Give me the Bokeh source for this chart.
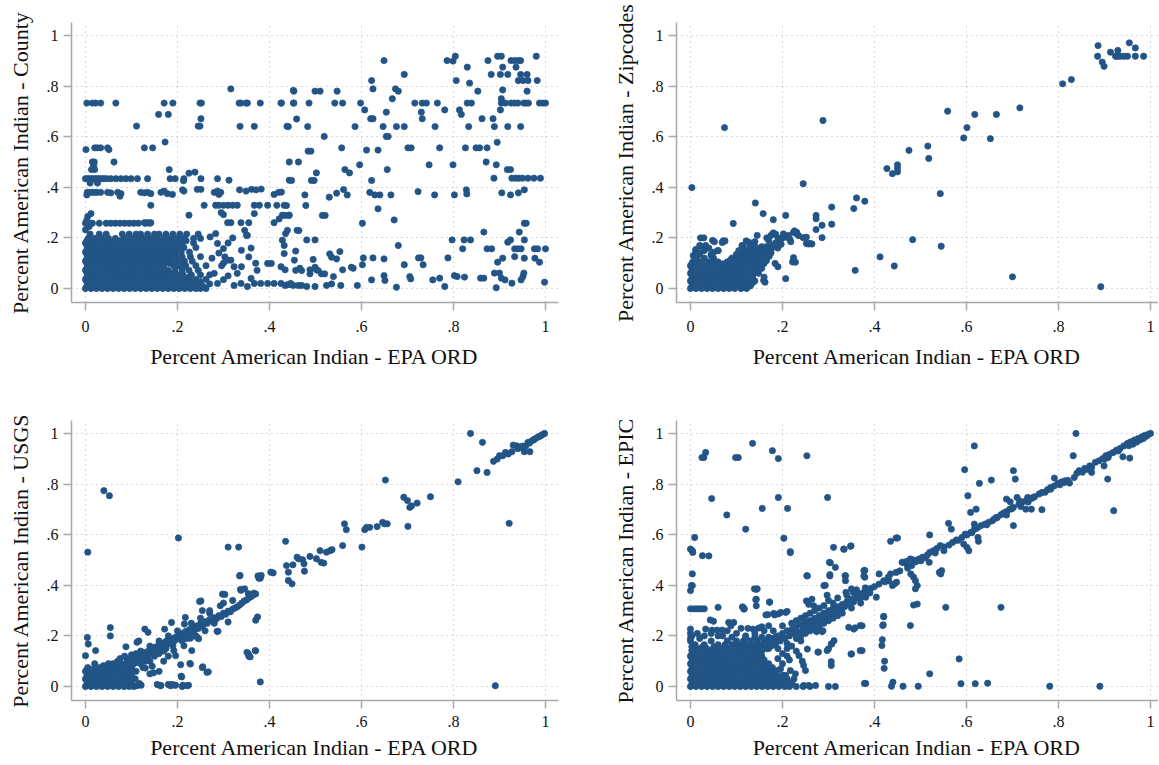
from bokeh.plotting import figure
from bokeh.models import Range1d, FixedTicker, ColumnDataSource
from bokeh.layouts import column, row
from bokeh.embed import file_html
from bokeh.resources import INLINE

# ---------------- data ----------------
tick_vals = [0, 0.2, 0.4, 0.6, 0.8, 1]
tick_labels = ["0", ".2", ".4", ".6", ".8", "1"]
x_title = "Percent American Indian - EPA ORD"
y_titles = ["Percent American Indian - County", "Percent American Indian - Zipcodes",
            "Percent American Indian - USGS", "Percent American Indian - EPIC"]

# dense clusters: (y, [x values]) rows
county_rows = [
    (0.000, [0, .012, .024, .036, .048, .06, .072, .084, .096, .108, .12, .132, .144, .156, .168, .18, .192, .204, .216, .228, .24, .25, .262]),
    (0.009, [.003, .015, .027, .039, .051, .063, .075, .087, .099, .111, .123, .135, .147, .159, .171, .183, .195, .207, .219, .231, .243, .255]),
    (0.018, [.006, .018, .03, .042, .054, .066, .078, .09, .102, .114, .126, .138, .15, .162, .174, .186, .198, .21, .222, .236, .248, .27]),
    (0.027, [.003, .015, .027, .039, .051, .063, .075, .087, .099, .111, .123, .135, .147, .159, .171, .183, .195, .207, .219, .231, .25]),
    (0.036, [0, .012, .024, .036, .048, .06, .072, .084, .096, .108, .12, .132, .144, .156, .168, .18, .192, .205, .22, .24, .262]),
    (0.045, [.003, .015, .027, .039, .051, .063, .075, .087, .099, .111, .123, .135, .147, .159, .171, .183, .195, .21, .225]),
    (0.054, [.006, .018, .03, .042, .054, .066, .078, .09, .102, .114, .126, .138, .15, .162, .174, .2, .212, .23, .25, .27]),
    (0.063, [.003, .015, .027, .039, .051, .063, .075, .087, .099, .111, .123, .135, .147, .159, .171, .183, .195]),
    (0.072, [0, .012, .024, .036, .048, .06, .072, .084, .096, .108, .12, .132, .144, .156, .168, .18, .21, .225, .245]),
    (0.081, [.003, .015, .027, .039, .051, .063, .075, .087, .099, .111, .123, .135, .147, .159, .171, .195]),
    (0.090, [.006, .018, .03, .042, .054, .066, .078, .09, .102, .114, .126, .138, .15, .162, .192, .204, .218, .24, .262]),
    (0.099, [.003, .015, .027, .039, .051, .063, .075, .087, .099, .111, .123, .135, .147, .159, .171, .183, .21]),
    (0.108, [0, .012, .024, .036, .048, .06, .072, .084, .096, .108, .12, .132, .144, .156, .168, .186, .2, .215, .232]),
    (0.117, [.003, .015, .027, .039, .051, .063, .075, .087, .099, .111, .123, .135, .147, .159, .171, .183]),
    (0.126, [.006, .018, .03, .042, .054, .066, .078, .09, .102, .114, .126, .138, .15, .162, .174, .196, .21, .228, .25]),
    (0.135, [.003, .015, .027, .039, .051, .063, .075, .087, .099, .111, .123, .135, .147, .159, .171, .183, .195]),
    (0.144, [0, .012, .024, .036, .048, .06, .072, .084, .096, .108, .12, .132, .144, .156, .168, .18, .192, .208, .226]),
    (0.153, [.003, .015, .027, .039, .051, .063, .075, .087, .099, .111, .123, .135, .147, .159, .171, .183, .195]),
    (0.162, [.006, .018, .03, .042, .054, .066, .078, .09, .102, .114, .126, .138, .15, .162, .174, .186, .2, .214, .24]),
    (0.171, [.003, .015, .027, .039, .051, .063, .075, .087, .099, .111, .123, .135, .147, .159, .171, .183, .195, .207]),
    (0.180, [0, .012, .024, .036, .048, .06, .072, .084, .096, .108, .12, .132, .144, .156, .168, .18, .195, .21, .235]),
    (0.189, [.003, .015, .027, .039, .051, .063, .075, .087, .099, .111, .123, .135, .147, .159, .171, .183, .195, .207, .219]),
    (0.198, [.006, .02, .035, .05, .065, .085, .1, .112, .125, .14, .155, .17, .185, .2, .215, .235, .25]),
    (0.215, [.01, .03, .045, .08, .095, .11, .12, .135, .15, .16, .175, .19, .205, .22, .245]),
    (0.258, [0, .015, .03, .045, .055, .065, .075, .085, .095, .105, .115, .13, .14]),
]
county_pts = [
    (0.003, .733), (0.015, .733), (0.022, .733), (0.033, .733), (0.066, .733), (0.171, .733), (0.19, .733),
    (0.249, .733), (0.252, .733), (0.334, .733), (0.338, .733), (0.349, .733), (0.352, .733), (0.38, .733),
    (0.425, .733), (0.452, .733), (0.316, .789), (0.452, .783), (0.459, .67), (0.159, .688), (0.18, .688),
    (0.111, .642), (0.245, .642), (0.249, .642), (0.251, .671), (0.336, .641), (0.367, .641), (0.438, .641),
    (0.173, .579), (0.443, .5), (0.001, .549), (0.02, .556), (0.026, .556), (0.033, .556), (0.048, .556),
    (0.051, .549), (0.128, .556), (0.146, .556), (0.015, .5), (0.019, .5), (0.062, .5), (0.013, .47),
    (0.02, .47), (0.018, .487), (0.0, .434), (0.005, .434), (0.01, .434), (0.015, .434), (0.02, .434),
    (0.025, .434), (0.03, .434), (0.035, .434), (0.04, .434), (0.046, .434), (0.055, .434), (0.066, .434),
    (0.077, .434), (0.088, .434), (0.099, .434), (0.113, .434), (0.135, .434), (0.184, .434), (0.195, .434),
    (0.214, .434), (0.251, .434), (0.287, .434), (0.213, .426), (0.238, .46), (0.312, .428), (0.443, .428),
    (0.182, .47), (0.225, .456), (0.01, .417), (0.026, .417), (0.004, .38), (0.009, .38), (0.015, .38),
    (0.02, .38), (0.025, .38), (0.033, .38), (0.048, .38), (0.055, .378), (0.07, .38), (0.077, .375),
    (0.12, .38), (0.128, .378), (0.135, .38), (0.142, .375), (0.164, .38), (0.171, .385), (0.178, .375),
    (0.189, .372), (0.211, .39), (0.214, .385), (0.243, .392), (0.251, .392), (0.28, .38), (0.287, .385),
    (0.29, .372), (0.294, .38), (0.335, .39), (0.349, .385), (0.361, .392), (0.371, .39), (0.382, .393),
    (0.41, .372), (0.42, .38), (0.075, .365), (0.003, .37), (0.142, .329), (0.258, .329), (0.283, .329),
    (0.29, .329), (0.3, .329), (0.31, .329), (0.32, .329), (0.33, .329), (0.367, .329), (0.378, .329),
    (0.396, .329), (0.416, .329), (0.432, .329), (0.295, .3), (0.3, .292), (0.225, .29), (0.003, .27),
    (0.005, .285), (0.012, .296), (0.008, .245), (0.0, .232), (0.128, .26), (0.135, .26), (0.142, .26),
    (0.309, .26), (0.316, .26), (0.338, .26), (0.355, .26), (0.367, .296), (0.41, .26), (0.421, .275),
    (0.428, .29), (0.443, .29), (0.439, .23), (0.46, .23), (0.346, .23), (0.35, .21), (0.352, .21),
    (0.271, .204), (0.283, .217), (0.287, .178), (0.3, .158), (0.303, .125), (0.309, .112), (0.316, .112),
    (0.323, .086), (0.339, .151), (0.355, .125), (0.339, .086), (0.373, .072), (0.396, .099), (0.404, .099),
    (0.367, .02), (0.381, .02), (0.396, .02), (0.41, .02), (0.425, .02), (0.439, .015), (0.446, .02),
    (0.425, .086), (0.432, .138), (0.428, .191), (0.435, .217), (0.454, .112), (0.457, .072), (0.287, .02),
    (0.323, .012), (0.338, .02), (0.352, .008), (0.3, .035), (0.31, .05), (0.33, .06), (0.36, .04),
    (0.296, .09), (0.3, .1), (0.28, .06), (0.29, .14), (0.275, .12), (0.31, .18), (0.32, .2), (0.36, .16),
    (0.37, .1),
    (0.649, .901), (0.786, .901), (0.799, .899), (0.804, .918), (0.83, .875), (0.875, .901), (0.896, .918),
    (0.904, .918), (0.925, .901), (0.933, .901), (0.941, .901), (0.946, .901), (0.907, .875), (0.936, .875),
    (0.882, .846), (0.902, .846), (0.918, .846), (0.946, .846), (0.96, .846), (0.98, .918), (0.941, .822),
    (0.951, .822), (0.962, .822), (0.982, .822), (0.622, .822), (0.693, .846), (0.806, .822), (0.835, .812),
    (0.625, .789), (0.674, .789), (0.68, .78), (0.853, .78), (0.907, .785), (0.96, .78), (0.453, .78),
    (0.499, .78), (0.51, .78), (0.547, .78),
    (0.426, .733), (0.453, .733), (0.486, .733), (0.542, .733), (0.559, .733), (0.598, .733), (0.716, .733),
    (0.732, .733), (0.741, .733), (0.765, .733), (0.83, .733), (0.839, .733), (0.904, .733), (0.913, .733),
    (0.925, .733), (0.933, .733), (0.94, .733), (0.953, .733), (0.958, .733), (0.963, .733), (0.987, .733),
    (0.994, .733), (1.0, .733), (0.904, .75), (0.902, .706),
    (0.607, .706), (0.667, .75), (0.654, .697), (0.73, .697), (0.781, .706), (0.813, .706), (0.817, .688),
    (0.862, .671), (0.886, .671), (0.732, .671), (0.62, .671), (0.625, .671),
    (0.441, .64), (0.483, .64), (0.586, .64), (0.647, .64), (0.676, .64), (0.693, .64), (0.76, .64),
    (0.833, .64), (0.889, .64), (0.918, .64), (0.946, .64), (0.519, .601), (0.654, .601), (0.658, .601),
    (0.557, .556), (0.611, .547), (0.636, .547), (0.701, .556), (0.708, .556), (0.77, .556), (0.826, .556),
    (0.849, .556), (0.857, .556), (0.873, .556), (0.895, .578), (0.484, .543), (0.49, .543),
    (0.463, .5), (0.596, .489), (0.747, .489), (0.799, .489), (0.871, .5), (0.893, .489), (0.564, .47),
    (0.574, .457), (0.656, .47), (0.502, .457),
    (0.448, .427), (0.491, .427), (0.497, .427), (0.622, .427), (0.888, .436), (0.917, .47), (0.924, .47),
    (0.927, .436), (0.935, .436), (0.942, .436), (0.95, .436), (0.962, .436), (0.975, .436), (0.989, .436),
    (0.426, .381), (0.477, .37), (0.53, .361), (0.546, .377), (0.561, .391), (0.569, .37), (0.618, .38),
    (0.629, .37), (0.64, .37), (0.664, .37), (0.723, .383), (0.759, .37), (0.802, .37), (0.828, .39),
    (0.829, .374), (0.905, .378), (0.924, .37), (0.941, .378), (0.954, .39),
    (0.437, .328), (0.479, .328), (0.434, .289), (0.442, .289), (0.515, .289), (0.521, .289), (0.636, .315),
    (0.671, .271), (0.602, .258),
    (0.464, .229), (0.481, .192), (0.499, .192), (0.432, .17), (0.457, .148), (0.68, .17), (0.797, .192),
    (0.823, .192), (0.837, .192), (0.866, .223), (0.873, .157), (0.883, .157), (0.924, .192), (0.918, .183),
    (0.943, .223), (0.954, .258), (0.958, .258), (0.954, .192), (0.976, .157), (0.983, .157), (1.0, .157),
    (0.82, .157), (0.933, .157), (0.94, .157), (0.947, .157),
    (0.495, .115), (0.531, .137), (0.535, .124), (0.546, .117), (0.553, .146), (0.604, .121), (0.625, .121),
    (0.649, .117), (0.724, .121), (0.729, .121), (0.788, .121), (0.907, .12), (0.933, .126), (0.954, .12),
    (0.977, .12), (0.896, .104), (0.987, .104),
    (0.434, .074), (0.466, .08), (0.47, .071), (0.488, .074), (0.488, .058), (0.499, .084), (0.502, .074),
    (0.506, .071), (0.513, .058), (0.52, .058), (0.539, .047), (0.559, .074), (0.578, .084), (0.582, .08),
    (0.602, .094), (0.693, .094), (0.734, .094), (0.705, .047), (0.707, .038), (0.622, .034), (0.649, .051),
    (0.651, .032), (0.755, .034), (0.77, .041), (0.802, .051), (0.808, .047), (0.824, .045), (0.859, .041),
    (0.866, .041), (0.889, .061), (0.9, .061), (0.904, .041), (0.912, .034), (0.927, .021), (0.947, .034),
    (0.951, .047), (0.953, .061), (0.998, .025),
    (0.434, .012), (0.445, .016), (0.452, .012), (0.463, .012), (0.47, .012), (0.481, .008), (0.499, .008),
    (0.524, .012), (0.535, .018), (0.555, .012), (0.591, .012), (0.676, .005), (0.781, .008), (0.893, .003),
]

zip_rows = [
    (0.000, [0, .012, .024, .036, .048, .06, .072, .084, .096, .11, .122]),
    (0.0075, [.003, .015, .027, .039, .051, .063, .075, .087, .099, .111, .123]),
    (0.015, [.006, .018, .03, .042, .054, .066, .078, .09, .105, .118, .13]),
    (0.0225, [.003, .015, .027, .039, .051, .063, .075, .087, .099, .111, .123, .135]),
    (0.030, [0, .012, .024, .036, .048, .06, .072, .084, .096, .11, .125, .14]),
    (0.0375, [.003, .015, .027, .039, .051, .063, .075, .087, .099, .111, .123, .135]),
    (0.045, [.006, .018, .03, .042, .054, .066, .078, .09, .1, .115, .13]),
    (0.0525, [.003, .015, .027, .039, .051, .063, .075, .087, .099, .111, .123, .135]),
    (0.060, [0, .012, .024, .036, .048, .06, .072, .084, .096, .11, .12, .135]),
    (0.0675, [.003, .015, .027, .039, .051, .063, .075, .087, .099, .111, .123, .135]),
    (0.075, [.006, .018, .03, .042, .054, .066, .078, .09, .1, .112, .124, .14]),
    (0.0825, [.003, .015, .027, .039, .063, .075, .087, .099, .111, .123, .135, .147]),
    (0.090, [0, .015, .03, .045, .06, .075, .09, .1, .11, .12, .13, .145]),
    (0.0975, [.003, .02, .05, .07, .087, .099, .111, .123, .135, .147]),
    (0.105, [.005, .025, .04, .06, .08, .095, .105, .115, .125, .135, .15]),
    (0.1125, [.015, .087, .099, .111, .123, .135, .147, .159]),
    (0.120, [.01, .03, .05, .09, .1, .11, .12, .13, .14, .155, .165]),
    (0.1275, [.099, .111, .123, .135, .147, .159, .171]),
    (0.135, [.02, .045, .1, .112, .125, .135, .145, .16, .17]),
    (0.1425, [.111, .123, .135, .147, .159, .171]),
    (0.150, [.03, .06, .11, .12, .13, .14, .15, .16, .175]),
    (0.165, [.025, .115, .13, .14, .155, .17, .18]),
]
zip_pts = [
    (0.886, .96), (0.885, .918), (0.895, .895), (0.899, .878), (0.913, .934), (0.924, .918), (0.929, .941),
    (0.929, .918), (0.934, .918), (0.942, .918), (0.95, .918), (0.954, .971), (0.967, .951), (0.967, .918),
    (0.985, .918), (0.809, .809), (0.828, .826), (0.716, .714), (0.559, .701), (0.618, .688), (0.665, .688),
    (0.601, .636), (0.594, .595), (0.652, .592), (0.516, .563), (0.518, .514), (0.475, .546), (0.427, .474),
    (0.439, .454), (0.45, .489), (0.45, .476), (0.45, .461), (0.543, .375), (0.483, .193), (0.545, .167),
    (0.412, .125), (0.443, .089), (0.358, .072), (0.7, .046), (0.892, .007), (0.074, .636), (0.288, .664),
    (0.003, .399), (0.245, .414), (0.361, .358), (0.379, .345), (0.355, .316), (0.307, .322), (0.307, .254),
    (0.273, .289), (0.273, .276), (0.286, .25), (0.273, .233), (0.286, .201), (0.207, .289), (0.18, .272),
    (0.158, .296), (0.141, .338), (0.093, .257), (0.245, .201), (0.252, .178), (0.26, .178), (0.226, .228),
    (0.23, .217), (0.224, .122), (0.222, .105), (0.207, .039),
    (0.022, .2), (0.029, .2), (0.02, .17), (0.033, .17), (0.051, .144), (0.011, .15), (0.073, .187),
    (0.069, .182), (0.145, .21), (0.127, .183), (0.13, .17), (0.112, .17), (0.105, .15), (0.202, .216),
    (0.209, .203), (0.224, .222), (0.231, .222), (0.235, .209), (0.252, .203), (0.257, .176), (0.264, .176),
    (0.228, .104), (0.159, .032), (0.162, .025), (0.16, .045), (0.137, .072), (0.184, .099), (0.19, .086),
    (0.16, .099), (0.123, .104), (0.13, .098),
    (0.048, .19), (0.052, .185), (0.071, .188), (0.075, .188), (0.121, .188), (0.166, .2), (0.175, .21),
    (0.18, .22), (0.185, .215), (0.19, .2), (0.17, .19), (0.195, .19), (0.2, .2), (0.213, .21), (0.216, .195),
    (0.218, .185), (0.14, .185), (0.012, .155), (0.006, .13), (0.01, .12), (0.02, .14), (0.04, .16),
    (0.06, .15), (0.045, .13), (0.12, .04), (0.125, .02), (0.13, .01), (0.148, .06), (0.155, .08),
    (0.135, .05), (0.16, .13), (0.17, .15), (0.178, .17), (0.175, .14), (0.19, .16), (0.197, .175),
    (0.185, .18), (0.165, .165), (0.15, .16), (0.155, .145), (0.143, .15), (0.158, .12), (0.17, .13),
    (0.165, .11), (0.145, .13), (0.115, .08), (0.12, .06), (0.13, .085), (0.14, .095), (0.15, .11),
]

usgs_rows = [
    (0.000, [0, .012, .024, .036, .048, .06, .072, .084, .095, .105]),
    (0.0075, [.003, .015, .027, .039, .051, .063, .075, .087, .099]),
    (0.015, [.006, .018, .03, .042, .054, .066, .078, .09, .1]),
    (0.0225, [.003, .015, .027, .039, .051, .063, .075, .087, .099]),
    (0.030, [0, .012, .024, .036, .048, .06, .072, .084, .096, .108]),
    (0.0375, [.003, .015, .027, .039, .051, .063, .075, .087, .099]),
    (0.045, [.006, .018, .03, .042, .054, .066, .078, .09, .1]),
    (0.0525, [.003, .015, .027, .039, .051, .063, .075, .087, .099]),
    (0.060, [0, .012, .024, .036, .048, .06, .072, .084, .096, .11]),
    (0.0675, [.003, .015, .027, .039, .051, .063, .075, .087, .099]),
    (0.075, [.005, .03, .042, .054, .066, .078, .09, .1]),
    (0.0825, [.039, .051, .063, .075, .087, .099]),
    (0.090, [.02, .05, .066, .078, .09, .105]),
]
usgs_pts = [
    (0.837, 1.0), (0.863, .965), (0.851, .853), (0.873, .846), (0.887, .89), (0.81, .809), (0.921, .645),
    (0.891, .003), (0.895, .899), (0.9, .912), (0.907, .912), (0.913, .925), (0.919, .919), (0.927, .928),
    (0.93, .954), (0.938, .951), (0.945, .945), (0.954, .928), (0.957, .951), (0.962, .965), (0.966, .928),
    (0.97, .971), (0.976, .978), (0.982, .984), (0.99, .991), (0.998, 1.0), (0.993, .995), (0.986, .988),
    (0.95, .95), (0.94, .94), (0.975, .975), (0.965, .962),
    (0.652, .816), (0.75, .75), (0.692, .748), (0.7, .735), (0.705, .708), (0.709, .714), (0.721, .725),
    (0.701, .633), (0.563, .643), (0.567, .62), (0.601, .551), (0.607, .62), (0.611, .629), (0.618, .629),
    (0.634, .632), (0.646, .649), (0.65, .643), (0.656, .643),
    (0.559, .557), (0.524, .531), (0.532, .537), (0.536, .541), (0.51, .537), (0.502, .505), (0.512, .491),
    (0.518, .488), (0.488, .514), (0.472, .501), (0.463, .505), (0.46, .511), (0.475, .485), (0.476, .456),
    (0.451, .481), (0.449, .406), (0.441, .419), (0.437, .478), (0.441, .452), (0.435, .574), (0.408, .449),
    (0.403, .452), (0.382, .439), (0.377, .428), (0.336, .439), (0.374, .275), (0.37, .141), (0.354, .13),
    (0.358, .117), (0.38, .018), (0.04, .774), (0.052, .754), (0.005, .531), (0.202, .587), (0.31, .551),
    (0.333, .551),
    (0.338, .38), (0.346, .386), (0.354, .367), (0.362, .36), (0.366, .369), (0.303, .364), (0.251, .338),
    (0.31, .255), (0.288, .218), (0.246, .189), (0.227, .091), (0.255, .078), (0.267, .058), (0.208, .041),
    (0.196, .005), (0.212, .005), (0.224, .005), (0.156, .008), (0.164, .004), (0.18, .008), (0.188, .008),
    (0.117, .012), (0.121, .005),
    (0.004, .194), (0.006, .168), (0.0, .122), (0.022, .142), (0.054, .2), (0.054, .233), (0.088, .157),
    (0.112, .175), (0.116, .18), (0.129, .227), (0.136, .214), (0.172, .227), (0.187, .253), (0.217, .273),
    (0.215, .247), (0.248, .336), (0.254, .3), (0.298, .365), (0.293, .319), (0.335, .437), (0.337, .384),
    (0.375, .437), (0.38, .428), (0.37, .262), (0.286, .218), (0.228, .191), (0.243, .194), (0.214, .161),
    (0.196, .122), (0.192, .142), (0.231, .142), (0.207, .086), (0.228, .089), (0.254, .075), (0.264, .056),
    (0.209, .038), (0.13, .073), (0.148, .054), (0.163, .003), (0.185, .003), (0.192, .006), (0.21, .0),
    (0.221, .003), (0.112, .003), (0.351, .135), (0.355, .12), (0.369, .142),
    (0.08, .085), (0.085, .07), (0.09, .095), (0.095, .08), (0.1, .1), (0.102, .088), (0.108, .11),
    (0.11, .095), (0.115, .12), (0.118, .105), (0.122, .125), (0.126, .112), (0.13, .135), (0.133, .12),
    (0.137, .14), (0.14, .128), (0.144, .15), (0.147, .135), (0.15, .155), (0.153, .142), (0.157, .16),
    (0.16, .15), (0.163, .168), (0.166, .155), (0.17, .172), (0.173, .16), (0.176, .18), (0.18, .17),
    (0.183, .185), (0.186, .175), (0.19, .19), (0.193, .18), (0.197, .196), (0.2, .188), (0.204, .205),
    (0.207, .195), (0.21, .21), (0.214, .2), (0.218, .218), (0.222, .208), (0.226, .225), (0.23, .215),
    (0.234, .232), (0.238, .224), (0.242, .24), (0.246, .23), (0.25, .248), (0.255, .24), (0.26, .256),
    (0.265, .25), (0.27, .265), (0.275, .26), (0.28, .272), (0.285, .268), (0.29, .28), (0.295, .276),
    (0.3, .29), (0.305, .286), (0.31, .298), (0.315, .295), (0.32, .306), (0.325, .31), (0.33, .315),
    (0.335, .322), (0.34, .33), (0.345, .338), (0.35, .342), (0.355, .35), (0.36, .355), (0.365, .362),
    (0.37, .366),
    (0.12, .14), (0.14, .16), (0.16, .18), (0.18, .2), (0.2, .22), (0.13, .1), (0.15, .12), (0.17, .14),
    (0.19, .16), (0.21, .18), (0.11, .13), (0.135, .11), (0.155, .13), (0.175, .15), (0.1, .07), (0.12, .09),
    (0.14, .1), (0.16, .13), (0.09, .11), (0.1, .125), (0.07, .1), (0.075, .11), (0.085, .12), (0.06, .09),
    (0.145, .08), (0.16, .06), (0.125, .075), (0.14, .05), (0.17, .1), (0.18, .12), (0.22, .19), (0.24, .2),
    (0.26, .22), (0.28, .25), (0.23, .25), (0.25, .27), (0.27, .29), (0.3, .33), (0.32, .34), (0.27, .3),
]

epic_rows = [
    (0.000, [0, .012, .024, .036, .048, .06, .072, .084, .096, .108, .12, .132, .144, .156, .168, .18, .192, .205, .215, .23, .245, .26]),
    (0.0075, [.003, .015, .027, .039, .051, .063, .075, .087, .099, .111, .123, .135, .147, .159, .171, .183, .195, .207, .219]),
    (0.015, [.006, .018, .03, .042, .054, .066, .078, .09, .102, .114, .126, .138, .15, .162, .175, .19, .205, .22]),
    (0.0225, [.003, .015, .027, .039, .051, .063, .075, .087, .099, .111, .123, .135, .147, .159, .171, .183, .195, .207]),
    (0.030, [0, .012, .024, .036, .048, .06, .072, .084, .096, .108, .12, .132, .144, .156, .168, .18, .195, .21]),
    (0.0375, [.003, .015, .027, .039, .051, .063, .075, .087, .099, .111, .123, .135, .147, .159, .171, .183, .195]),
    (0.045, [.006, .018, .03, .042, .054, .066, .078, .09, .102, .114, .126, .138, .15, .162, .175, .185, .2]),
    (0.0525, [.003, .015, .027, .039, .051, .063, .075, .087, .099, .111, .123, .135, .147, .159, .171, .183]),
    (0.060, [0, .012, .024, .036, .048, .06, .072, .084, .096, .108, .12, .132, .144, .156, .17, .18]),
    (0.0675, [.003, .015, .027, .039, .051, .063, .075, .087, .099, .111, .123, .135, .147, .159, .171]),
    (0.075, [.006, .018, .03, .042, .054, .066, .078, .09, .102, .114, .126, .138, .15, .165, .178]),
    (0.0825, [.003, .015, .027, .039, .051, .063, .075, .087, .099, .111, .123, .135, .147, .159, .171]),
    (0.090, [0, .012, .024, .036, .048, .06, .072, .084, .096, .108, .12, .135, .15, .17]),
    (0.0975, [.003, .015, .027, .039, .051, .063, .075, .087, .099, .111, .123, .135, .147, .159]),
    (0.105, [.006, .018, .03, .042, .054, .066, .078, .09, .102, .114, .13, .145, .16]),
    (0.1125, [.003, .015, .027, .039, .051, .063, .075, .087, .099, .111, .123, .135, .147]),
    (0.120, [0, .012, .024, .036, .05, .065, .08, .095, .11, .125, .14, .155]),
    (0.1275, [.003, .015, .027, .039, .051, .063, .075, .087, .099, .111, .123, .135, .147]),
    (0.135, [.005, .02, .035, .05, .065, .08, .095, .11, .125, .14, .15]),
    (0.1425, [.003, .015, .027, .039, .051, .063, .075, .087, .099, .111, .123, .135, .147]),
    (0.150, [.006, .02, .035, .05, .065, .08, .095, .11, .125, .14, .155, .17]),
    (0.1575, [.003, .027, .051, .075, .099, .111, .123, .135, .147, .159]),
    (0.165, [.01, .03, .06, .075, .09, .105, .12, .135, .15, .165, .18]),
    (0.180, [.045, .08, .1, .115, .13, .145, .16, .175, .19]),
    (0.195, [.09, .12, .14, .155, .17, .185, .2]),
]
epic_pts = [
    (0.029, .905), (0.033, .925), (0.025, .905), (0.098, .905), (0.104, .905), (0.135, .961), (0.178, .932),
    (0.191, .901), (0.253, .912), (0.046, .743), (0.191, .747), (0.298, .747), (0.156, .704), (0.211, .704),
    (0.079, .678), (0.12, .622), (0.009, .589), (0.203, .586), (0.217, .533), (0.0, .543), (0.004, .537),
    (0.005, .53), (0.026, .517), (0.004, .445), (0.002, .399), (0.004, .399), (0.0, .379), (0.617, .951),
    (0.0, .307), (0.006, .307), (0.012, .307), (0.018, .307), (0.024, .307), (0.03, .307), (0.06, .313),
    (0.139, .386), (0.145, .386), (0.142, .343), (0.114, .313), (0.117, .307), (0.172, .333), (0.164, .283),
    (0.183, .283), (0.191, .287), (0.207, .293),
    (0.311, .55), (0.334, .543), (0.348, .554), (0.302, .491), (0.315, .471), (0.253, .438), (0.29, .399),
    (0.303, .442), (0.337, .438), (0.337, .418), (0.377, .458), (0.379, .432), (0.392, .388), (0.338, .372),
    (0.35, .386), (0.354, .372), (0.361, .382), (0.368, .366), (0.377, .372), (0.381, .353), (0.404, .353),
    (0.41, .445), (0.423, .414), (0.431, .418), (0.435, .445), (0.439, .399), (0.443, .405), (0.448, .412),
    (0.435, .574), (0.447, .587), (0.45, .587), (0.46, .491), (0.47, .484), (0.479, .445), (0.485, .432),
    (0.489, .418), (0.493, .399), (0.489, .386), (0.485, .322), (0.493, .326), (0.478, .241), (0.52, .599),
    (0.555, .313), (0.675, .313), (0.584, .109), (0.52, .05),
    (0.42, .276), (0.418, .241), (0.416, .162), (0.421, .072), (0.378, .012), (0.44, .017), (0.437, .001),
    (0.462, .001), (0.495, .001), (0.588, .011), (0.619, .011), (0.646, .013), (0.781, .001), (0.89, .001),
    (0.344, .234), (0.358, .232), (0.369, .241), (0.373, .142), (0.35, .129), (0.306, .083), (0.3, .149),
    (0.307, .168), (0.278, .136), (0.274, .217), (0.286, .217),
    (0.462, .491), (0.47, .495), (0.478, .504), (0.485, .5), (0.497, .504), (0.505, .511), (0.515, .52),
    (0.52, .53), (0.528, .537), (0.536, .546), (0.543, .557), (0.57, .57), (0.578, .579), (0.59, .589),
    (0.601, .599), (0.609, .609), (0.617, .622), (0.625, .629), (0.632, .636), (0.64, .642), (0.648, .649),
    (0.656, .655), (0.665, .668), (0.675, .679), (0.687, .691), (0.694, .701), (0.702, .708), (0.714, .721),
    (0.721, .728), (0.729, .734), (0.741, .743), (0.748, .75), (0.764, .767), (0.776, .778), (0.783, .787),
    (0.791, .793), (0.799, .803), (0.807, .809), (0.814, .813), (0.824, .804), (0.834, .826), (0.845, .853),
    (0.857, .862), (0.868, .872), (0.88, .886), (0.888, .892), (0.896, .901), (0.903, .912), (0.911, .918),
    (0.919, .925), (0.926, .934), (0.934, .941), (0.942, .951), (0.95, .961), (0.957, .967), (0.965, .974),
    (0.973, .98), (0.981, .987), (0.988, .993), (0.996, .997), (1.0, 1.0),
    (0.803, .797), (0.812, .806), (0.82, .815), (0.953, .952), (0.962, .958), (0.978, .975), (0.992, .99),
    (0.985, .981), (0.97, .966), (0.93, .931), (0.908, .905), (0.9, .898), (0.862, .858), (0.872, .866),
    (0.852, .847), (0.84, .843), (0.758, .761), (0.771, .768), (0.734, .729), (0.717, .72), (0.698, .702),
    (0.681, .686), (0.66, .662), (0.644, .639), (0.621, .625), (0.612, .608), (0.597, .602), (0.582, .578),
    (0.562, .559), (0.551, .552), (0.532, .528), (0.511, .509), (0.501, .497), (0.49, .493), (0.481, .478),
    (0.472, .468), (0.455, .457), (0.447, .451), (0.43, .432), (0.42, .418),
    (0.838, 1.0), (0.832, .912), (0.899, .872), (0.907, .82), (0.92, .695), (0.94, .908), (0.955, .903),
    (0.872, .846), (0.791, .824), (0.783, .78), (0.702, .853), (0.706, .82), (0.628, .803), (0.654, .816),
    (0.596, .857), (0.603, .754), (0.621, .701), (0.609, .688), (0.561, .645), (0.567, .622), (0.617, .642),
    (0.594, .563), (0.601, .55), (0.605, .537), (0.625, .589), (0.626, .574), (0.551, .537), (0.546, .458),
    (0.544, .445), (0.541, .451), (0.519, .491), (0.687, .741), (0.695, .73), (0.71, .747), (0.733, .747),
    (0.745, .747), (0.741, .701), (0.764, .699), (0.702, .636), (0.718, .711), (0.729, .701), (0.667, .668),
    (0.687, .678), (0.716, .733),
    (0.0, .227), (0.0, .21), (0.0, .19), (0.0, .18), (0.003, .2), (0.04, .516),
    (0.217, .529), (0.143, .384), (0.143, .345), (0.143, .319), (0.172, .334), (0.113, .315), (0.116, .306),
    (0.043, .263), (0.05, .258), (0.033, .227), (0.047, .223), (0.058, .223), (0.069, .223), (0.083, .253),
    (0.094, .253), (0.088, .24), (0.136, .227), (0.148, .231), (0.155, .236), (0.168, .284), (0.181, .289),
    (0.196, .293), (0.21, .297), (0.254, .437), (0.252, .338), (0.257, .325), (0.264, .345), (0.268, .319),
    (0.293, .4), (0.297, .361), (0.304, .489), (0.333, .543), (0.349, .556), (0.303, .437), (0.336, .437),
    (0.377, .437), (0.379, .459), (0.274, .22), (0.288, .22), (0.355, .227), (0.373, .24), (0.312, .181),
    (0.306, .168), (0.297, .142), (0.277, .136), (0.254, .148), (0.236, .122), (0.349, .128), (0.369, .142),
    (0.306, .098), (0.243, .1), (0.246, .083), (0.25, .063), (0.217, .063), (0.228, .05), (0.225, .03),
    (0.188, .063), (0.196, .07), (0.207, .044), (0.246, .004), (0.257, .004), (0.272, .004), (0.3, .0),
    (0.315, .0), (0.381, .012), (0.417, .185), (0.422, .1), (0.419, .244), (0.42, .277),
    (0.15, .16), (0.155, .14), (0.16, .17), (0.165, .15), (0.17, .18), (0.175, .16), (0.18, .19),
    (0.185, .17), (0.19, .2), (0.195, .18), (0.2, .21), (0.205, .19), (0.21, .22), (0.215, .2), (0.22, .225),
    (0.225, .21), (0.23, .235), (0.235, .215), (0.24, .245), (0.245, .225), (0.25, .255), (0.255, .235),
    (0.26, .26), (0.265, .245), (0.27, .27), (0.275, .255), (0.28, .28), (0.285, .265), (0.29, .29),
    (0.295, .275), (0.3, .3), (0.305, .285), (0.31, .31), (0.315, .295), (0.32, .315), (0.325, .305),
    (0.33, .325), (0.335, .315), (0.34, .335), (0.345, .325), (0.35, .345), (0.355, .335), (0.36, .355),
    (0.365, .35), (0.37, .365), (0.375, .36), (0.38, .375), (0.39, .385), (0.4, .395), (0.41, .405),
    (0.23, .26), (0.25, .28), (0.27, .3), (0.29, .32), (0.31, .33), (0.26, .22), (0.28, .24), (0.3, .26),
    (0.32, .28), (0.2, .24), (0.22, .25), (0.24, .27), (0.18, .22), (0.21, .17), (0.19, .15), (0.24, .2),
    (0.26, .29), (0.28, .31), (0.3, .34), (0.32, .35), (0.34, .36), (0.36, .38), (0.38, .39), (0.35, .31),
    (0.37, .33), (0.33, .29), (0.31, .27), (0.29, .25), (0.27, .23), (0.25, .21), (0.23, .19), (0.21, .15),
    (0.2, .13), (0.22, .16), (0.23, .14), (0.21, .12), (0.2, .09), (0.215, .105), (0.19, .11), (0.24, .18),
    (0.25, .23), (0.26, .24), (0.28, .26), (0.3, .28), (0.33, .31), (0.35, .33), (0.37, .35), (0.39, .37),
    (0.06, .2), (0.07, .2), (0.08, .22), (0.1, .21), (0.12, .2), (0.11, .23), (0.045, .21), (0.03, .2),
    (0.02, .19), (0.015, .21), (0.125, .23), (0.14, .21), (0.16, .22), (0.17, .24),
]

# ---------------- styling ----------------
DOT = "#225586"
AXIS = "#a8a8a8"
GRID = "#b4b4b4"
FONT = "Liberation Serif"
X_RANGE_L = (-0.0304, 1.0283)
X_RANGE_R = (-0.0304, 1.0174)
Y_RANGE = (-0.0553, 1.0514)


def expand(rows, pts):
    xs = [x for yv, xr in rows for x in xr] + [p[0] for p in pts]
    ys = [yv for yv, xr in rows for _ in xr] + [p[1] for p in pts]
    return xs, ys


def make_panel(rows, pts, ytitle, width, height, mt, mb, mr, xr, lab_off, title_off):
    p = figure(width=width, height=height, output_backend="svg", toolbar_location=None,
               x_range=Range1d(*xr), y_range=Range1d(*Y_RANGE),
               min_border_left=71, min_border_right=mr, min_border_top=mt, min_border_bottom=mb)
    p.outline_line_color = None
    p.background_fill_color = "white"
    p.border_fill_color = "white"
    for ax in (p.xaxis, p.yaxis):
        ax.ticker = FixedTicker(ticks=tick_vals)
        ax.major_label_overrides = dict(zip(tick_vals, tick_labels))
        ax.axis_line_color = AXIS
        ax.axis_line_width = 1.5
        ax.major_tick_line_color = AXIS
        ax.major_tick_line_width = 1.5
        ax.major_tick_in = 0
        ax.major_tick_out = 8
        ax.minor_tick_line_color = None
        ax.major_label_text_font = FONT
        ax.major_label_text_font_size = "16px"
        ax.major_label_text_color = "#111111"
        ax.axis_label_text_font = FONT
        ax.axis_label_text_font_size = "22px"
        ax.axis_label_text_font_style = "normal"
        ax.axis_label_text_color = "#111111"
    p.xaxis.axis_label = x_title
    p.yaxis.axis_label = ytitle
    p.xaxis.major_label_standoff = lab_off
    p.xaxis.axis_label_standoff = title_off
    p.yaxis.major_label_standoff = 5
    p.yaxis.axis_label_standoff = 11
    p.yaxis.major_label_orientation = "horizontal"
    for g in (p.xgrid, p.ygrid):
        g.ticker = FixedTicker(ticks=tick_vals)
        g.grid_line_color = GRID
        g.grid_line_dash = "1 4"
        g.grid_line_width = 1
    xs, ys = expand(rows, pts)
    src = ColumnDataSource(dict(x=xs, y=ys))
    p.scatter("x", "y", source=src, size=6.3, fill_color=DOT, line_color=DOT, line_width=0.7)
    return p


p1 = make_panel(county_rows, county_pts, y_titles[0], 605, 406, 22, 104, 47, X_RANGE_L, 10, 9)
p2 = make_panel(zip_rows, zip_pts, y_titles[1], 553, 406, 22, 104, 0, X_RANGE_R, 10, 9)
p3 = make_panel(usgs_rows, usgs_pts, y_titles[2], 605, 357, 14, 63, 47, X_RANGE_L, 7, 5)
p4 = make_panel(epic_rows, epic_pts, y_titles[3], 553, 357, 14, 63, 0, X_RANGE_R, 7, 5)

layout = column(row(p1, p2), row(p3, p4))
open("out.html", "w").write(file_html(layout, INLINE))
